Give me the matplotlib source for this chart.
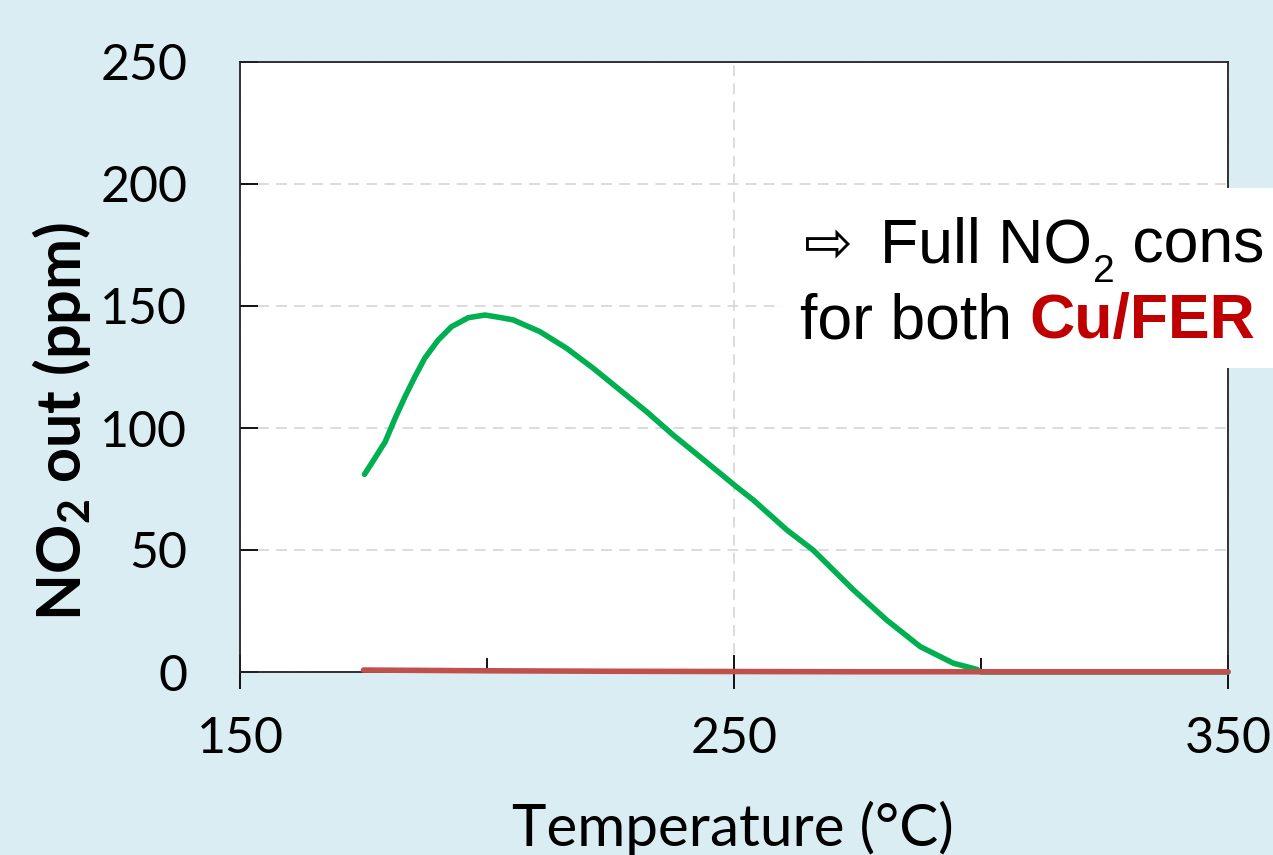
import matplotlib
matplotlib.use("Agg")
import matplotlib.pyplot as plt
from matplotlib.patches import Rectangle
from matplotlib.ticker import MultipleLocator

plt.rcParams['mathtext.default'] = 'regular'

# NO2 outlet concentration
temp_green = [175.2, 177.3, 179.4, 181.4, 183.4, 185.4, 187.4, 190.1, 192.8, 196.2,
              199.6, 202.9, 205.3, 210.7, 216.1, 221.5, 226.9, 232.3, 237.7, 243.1,
              247.2, 250.5, 253.9, 260.7, 266, 274.2, 280.9, 287.7, 294.4, 299.1,
              300, 325, 350]
no2_green = [81.0, 87.6, 94.4, 104, 112.8, 121, 128.6, 136, 141.5, 145.2,
             146.3, 145.2, 144.3, 139.5, 132.7, 124.5, 115.6, 106.7, 97.1, 88.2,
             81.4, 75.9, 70.5, 58.2, 50, 33.6, 21.3, 10.4, 3.6, 1.1,
             0, 0, 0]
temp_red = [175, 200, 225, 250, 275, 300, 325, 350]
no2_red = [0.8, 0.5, 0.3, 0.2, 0.1, 0.1, 0.1, 0.1]

x_ticks = [150, 250, 350]
y_ticks = [0, 50, 100, 150, 200, 250]

bg = '#DAEDF3'
fig = plt.figure(figsize=(12.73, 8.55), dpi=100, facecolor=bg)
ax = fig.add_axes([240 / 1273, 1 - 672 / 855, 988 / 1273, 610 / 855])
ax.set_facecolor('white')

ax.plot(temp_green, no2_green, color='#00B050', lw=4.0, solid_capstyle='round',
        solid_joinstyle='round', clip_on=False, zorder=3)
ax.plot(temp_red, no2_red, color='#C0504D', lw=4.0, solid_capstyle='round',
        clip_on=False, zorder=4)

ax.set_xlim(150, 350)
ax.set_ylim(0, 250)
ax.set_xticks(x_ticks)
ax.xaxis.set_minor_locator(MultipleLocator(50))
ax.set_yticks(y_ticks)

ax.grid(True, which='major', color='#D9D9D9', lw=1.3, ls=(0, (6, 4)))
ax.set_axisbelow(True)
for s in ax.spines.values():
    s.set_color('#222222')
    s.set_linewidth(1.3)

ax.tick_params(axis='x', which='major', direction='inout', length=24, width=1.3,
               pad=20, labelsize=36)
ax.tick_params(axis='x', which='minor', direction='in', length=10, width=1.3)
ax.tick_params(axis='y', which='major', direction='in', length=13, width=1.3,
               pad=38, labelsize=36)
for lab in ax.get_xticklabels() + ax.get_yticklabels():
    lab.set_fontfamily('Lato')

# the axis title sits partly below the bottom edge, as in the reference
fig.text(733 / 1273, 1 - 828 / 855, 'Temperature (°C)', family='Lato', fontsize=42,
         ha='center', va='center')
fig.text(62 / 1273, 1 - 421 / 855, 'NO$_2$ out (ppm)', family='Lato', fontsize=44,
         fontweight='bold', rotation=90, ha='center', va='center')

# white callout box on top of the plot
fig.add_artist(Rectangle((782 / 1273, 1 - 368 / 855), 500 / 1273, 180 / 855,
                         transform=fig.transFigure, facecolor='white',
                         edgecolor='none', zorder=5))
fs = 45
fig.text(804 / 1273, 1 - 262 / 855, '⇨', family='DejaVu Sans', fontsize=42,
         ha='left', va='baseline', zorder=6)
ta = fig.text(880 / 1273, 1 - 262 / 855, 'Full NO', family='Liberation Sans',
              fontsize=fs, ha='left', va='baseline', zorder=6)
tb = fig.add_artist(plt.Annotation('2', xy=(1, 0), xycoords=ta, xytext=(1, -11),
                                   textcoords='offset points', va='bottom', ha='left',
                                   family='Liberation Sans', fontsize=28, zorder=6))
fig.add_artist(plt.Annotation(' cons', xy=(1, 0), xycoords=(tb, ta), va='bottom',
                              ha='left', family='Liberation Sans', fontsize=fs,
                              zorder=6))
t1 = fig.text(800 / 1273, 1 - 338 / 855, 'for both ', family='Liberation Sans',
              fontsize=fs, ha='left', va='baseline', zorder=6)
fig.add_artist(plt.Annotation('Cu/FER', xy=(1, 0), xycoords=t1, va='bottom', ha='left',
                              family='Liberation Sans', fontsize=fs, fontweight='bold',
                              color='#C00000', zorder=6))

fig.savefig('out.png', dpi=100, facecolor=bg)
